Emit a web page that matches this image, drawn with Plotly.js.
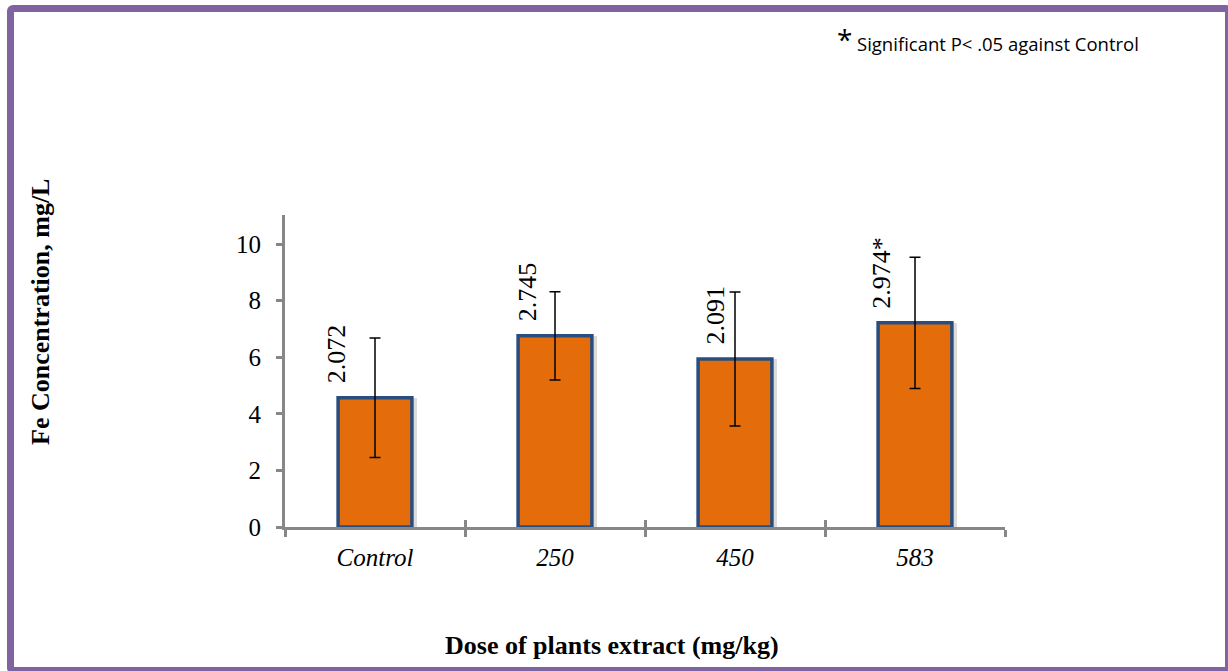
<!DOCTYPE html>
<html>
<head>
<meta charset="utf-8">
<script src="https://cdn.plot.ly/plotly-3.0.1.min.js"></script>
<style>
  html, body { margin: 0; padding: 0; background: #fff; overflow: hidden; }
  #wrap { position: relative; width: 1228px; height: 671px; overflow: hidden; }
  #chart { position: absolute; left: 0; top: 0; width: 1228px; height: 671px; }
  #frame { position: absolute; left: 7px; top: 5px; width: 1225px; height: 669px;
           border: 7px solid #8064A2; border-radius: 6px; pointer-events: none; box-sizing: border-box; }
</style>
</head>
<body>
<div id="wrap">
  <div id="chart"></div>
  <div id="frame"></div>
</div>
<script>
// ---- data ----
const categories = ["Control", "250", "450", "583"];
const meanValues = [4.57, 6.76, 5.94, 7.22];
const errorValues = [2.11, 1.56, 2.37, 2.32];
const labelTexts = ["2.072", "2.745", "2.091", "2.974*"];
const yTickValues = [0, 2, 4, 6, 8, 10];

// ---- layout helpers ----
const W = 1228, H = 671;
const M = { l: 285, r: 223, t: 215, b: 144 };
const pw = W - M.l - M.r, ph = H - M.t - M.b;
const px = X => (X - M.l) / pw;
const py = Y => (H - M.b - Y) / ph;

const serif = "Liberation Serif";
const axisGray = "#878787";
const labelShift = [-39, -28, -20, -33];

const shadow = {
  type: "bar", x: categories, y: meanValues, xaxis: "x", yaxis: "y",
  width: 0.41, offset: -0.205 + 0.028,
  marker: { color: "rgba(90,90,90,0.22)", line: { width: 0 } },
  hoverinfo: "skip", showlegend: false
};
const bars = {
  type: "bar", x: categories, y: meanValues, xaxis: "x2", yaxis: "y",
  width: 0.41,
  marker: { color: "#E46C0A", line: { color: "#2A4D7F", width: 3.5 } },
  error_y: { type: "data", array: errorValues, visible: true, color: "#000", thickness: 1.5, width: 5.5 },
  showlegend: false
};

const annotations = categories.map((c, i) => ({
  x: categories.indexOf(c), y: meanValues[i], xref: "x2", yref: "y",
  text: "<span style=\"font-family:'Times New Roman','Liberation Serif',serif\">" + labelTexts[i] + "</span>",
  textangle: -90, showarrow: false,
  xanchor: "center", yanchor: "bottom", xshift: labelShift[i], yshift: 12,
  font: { family: "Times New Roman, Liberation Serif, serif", size: 26, color: "#000" }
}));
annotations.push(
  { xref: "paper", yref: "paper", x: px(612), y: py(645), text: "<b>Dose of plants extract (mg/kg)</b>",
    showarrow: false, xanchor: "center", yanchor: "middle", font: { family: serif, size: 26, color: "#000" } },
  { xref: "paper", yref: "paper", x: px(40), y: py(312), text: "<b>Fe Concentration, mg/L</b>", textangle: -90,
    showarrow: false, xanchor: "center", yanchor: "middle", font: { family: serif, size: 26, color: "#000" } },
  { xref: "paper", yref: "paper", x: px(844), y: py(39), text: "*",
    showarrow: false, xanchor: "center", yanchor: "middle", font: { family: "Open Sans", size: 28, color: "#000" } },
  { xref: "paper", yref: "paper", x: px(855), y: py(44), text: "Significant P&lt; .05 against Control",
    showarrow: false, xanchor: "left", yanchor: "middle", font: { family: "Open Sans", size: 18.5, color: "#000" } }
);

const layout = {
  width: W, height: H, margin: M,
  paper_bgcolor: "#fff", plot_bgcolor: "rgba(0,0,0,0)",
  font: { family: serif },
  barmode: "overlay", bargap: 0,
  xaxis: {
    type: "category", categoryarray: categories, categoryorder: "array", range: [-0.5, 3.5],
    showline: true, linecolor: axisGray, linewidth: 3, showgrid: false, zeroline: false,
    ticks: "outside", tickson: "boundaries", ticklen: 7, tickwidth: 3, tickcolor: axisGray,
    tickfont: { family: serif, size: 25, color: "#000", style: "italic" }, ticklabelstandoff: 6
  },
  xaxis2: {
    type: "category", categoryarray: categories, categoryorder: "array", range: [-0.5, 3.5],
    overlaying: "x", anchor: "y", side: "bottom",
    showline: false, showgrid: false, zeroline: false,
    ticks: "inside", tickson: "boundaries", ticklen: 7, tickwidth: 3, tickcolor: axisGray,
    showticklabels: false
  },
  yaxis: {
    range: [0, 11.03], tickvals: yTickValues, ticktext: yTickValues.map(String),
    showline: true, linecolor: axisGray, linewidth: 3, showgrid: false, zeroline: false,
    ticks: "outside", ticklen: 6, tickwidth: 3, tickcolor: axisGray,
    tickfont: { family: serif, size: 25, color: "#000" }, ticklabelstandoff: 10
  },
  annotations: annotations
};

Plotly.newPlot("chart", [shadow, bars], layout, { displayModeBar: false, staticPlot: true });
</script>
</body>
</html>
